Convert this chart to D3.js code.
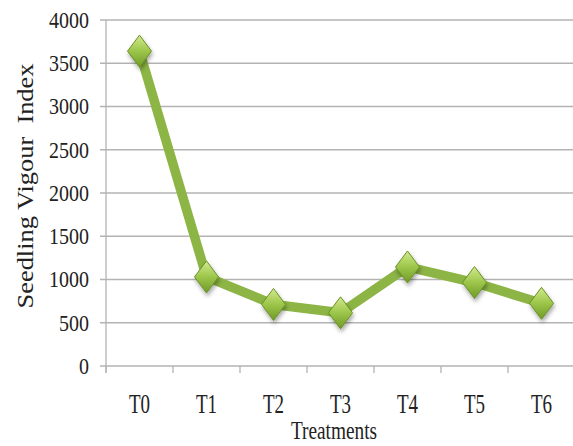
<!DOCTYPE html>
<html>
<head>
<meta charset="utf-8">
<script src="https://cdn.jsdelivr.net/npm/d3@7/dist/d3.min.js"></script>
<style>
  html, body { margin: 0; padding: 0; background: #ffffff; }
  svg { display: block; }
  text { font-family: "Liberation Serif", "Times New Roman", serif; fill: #222; }
</style>
</head>
<body>
<svg id="chart" width="573" height="446"></svg>
<script>
// Seedling vigour index per treatment
const categories = ["T0", "T1", "T2", "T3", "T4", "T5", "T6"];
const vigourIndex = [3640, 1030, 712, 615, 1145, 965, 725];
const yTicks = [0, 500, 1000, 1500, 2000, 2500, 3000, 3500, 4000];

const svg = d3.select("#chart");
const margin = { left: 106, top: 20, right: -2, bottom: 80 };
const W = 573, H = 446;

const x = d3.scaleBand()
  .domain(categories)
  .range([margin.left, W - margin.right]);
const y = d3.scaleLinear()
  .domain([0, 4000])
  .range([H - margin.bottom, margin.top]);

// gradient + shadow for diamond markers
const defs = svg.append("defs");
const grad = defs.append("linearGradient")
  .attr("id", "dgrad").attr("x1", "0").attr("y1", "0").attr("x2", "0").attr("y2", "1");
grad.append("stop").attr("offset", "0%").attr("stop-color", "#d3ea8e");
grad.append("stop").attr("offset", "50%").attr("stop-color", "#9cc64a");
grad.append("stop").attr("offset", "100%").attr("stop-color", "#6f9a27");
const shadow = defs.append("filter").attr("id", "shadow")
  .attr("x", "-50%").attr("y", "-50%").attr("width", "200%").attr("height", "200%");
shadow.append("feDropShadow").attr("dx", 1).attr("dy", 3).attr("stdDeviation", 2)
  .attr("flood-color", "#000").attr("flood-opacity", 0.35);

// horizontal gridlines
const grid = svg.append("g");
grid.selectAll("line").data(yTicks).join("line")
  .attr("x1", margin.left - 6).attr("x2", W)
  .attr("y1", d => y(d)).attr("y2", d => y(d))
  .attr("stroke", "#b3b3b3").attr("stroke-width", 1.3);

// y axis line
svg.append("line")
  .attr("x1", margin.left).attr("x2", margin.left)
  .attr("y1", y(4000)).attr("y2", y(0) + 7)
  .attr("stroke", "#b3b3b3").attr("stroke-width", 1.3);

// x-axis category ticks
const tickXs = categories.map(c => x(c)).concat([x(categories[categories.length - 1]) + x.bandwidth()]);
svg.append("g").selectAll("line").data(tickXs).join("line")
  .attr("x1", d => d).attr("x2", d => d)
  .attr("y1", y(0)).attr("y2", y(0) + 7)
  .attr("stroke", "#b3b3b3").attr("stroke-width", 1.3);

// y tick labels
svg.append("g").selectAll("text").data(yTicks).join("text")
  .attr("text-anchor", "end")
  .attr("transform", d => `translate(89,${y(d)}) scale(1,1.12)`)
  .attr("dy", "0.35em")
  .attr("font-size", 20)
  .text(d => d);

// x tick labels
svg.append("g").selectAll("text").data(categories).join("text")
  .attr("text-anchor", "middle")
  .attr("transform", d => `translate(${x(d) + x.bandwidth() / 2},413) scale(1,1.4)`)
  .attr("font-size", 19)
  .text(d => d);

// axis titles
svg.append("text")
  .attr("text-anchor", "middle")
  .attr("transform", `translate(334,439) scale(1,1.3)`)
  .attr("font-size", 19.3)
  .text("Treatments");

svg.append("text")
  .attr("text-anchor", "middle")
  .attr("transform", `translate(25,186) rotate(-90) scale(1.1,1)`)
  .attr("dy", "0.35em")
  .attr("font-size", 24)
  .attr("xml:space", "preserve")
  .style("white-space", "pre")
  .text("Seedling Vigour  Index");

// data line
const cx = d => x(d) + x.bandwidth() / 2;
const pts = categories.map((c, i) => [cx(c), y(vigourIndex[i])]);
svg.append("path")
  .attr("d", d3.line()(pts))
  .attr("fill", "none")
  .attr("stroke", "#8db545")
  .attr("stroke-width", 9.5)
  .attr("stroke-linejoin", "round");

// diamond markers
const hw = 12, hh = 16;
svg.append("g").selectAll("path").data(pts).join("path")
  .attr("d", d => `M${d[0]},${d[1] - hh}L${d[0] + hw},${d[1]}L${d[0]},${d[1] + hh}L${d[0] - hw},${d[1]}Z`)
  .attr("fill", "url(#dgrad)")
  .attr("stroke", "#6a9126")
  .attr("stroke-width", 1)
  .attr("filter", "url(#shadow)");
</script>
</body>
</html>
